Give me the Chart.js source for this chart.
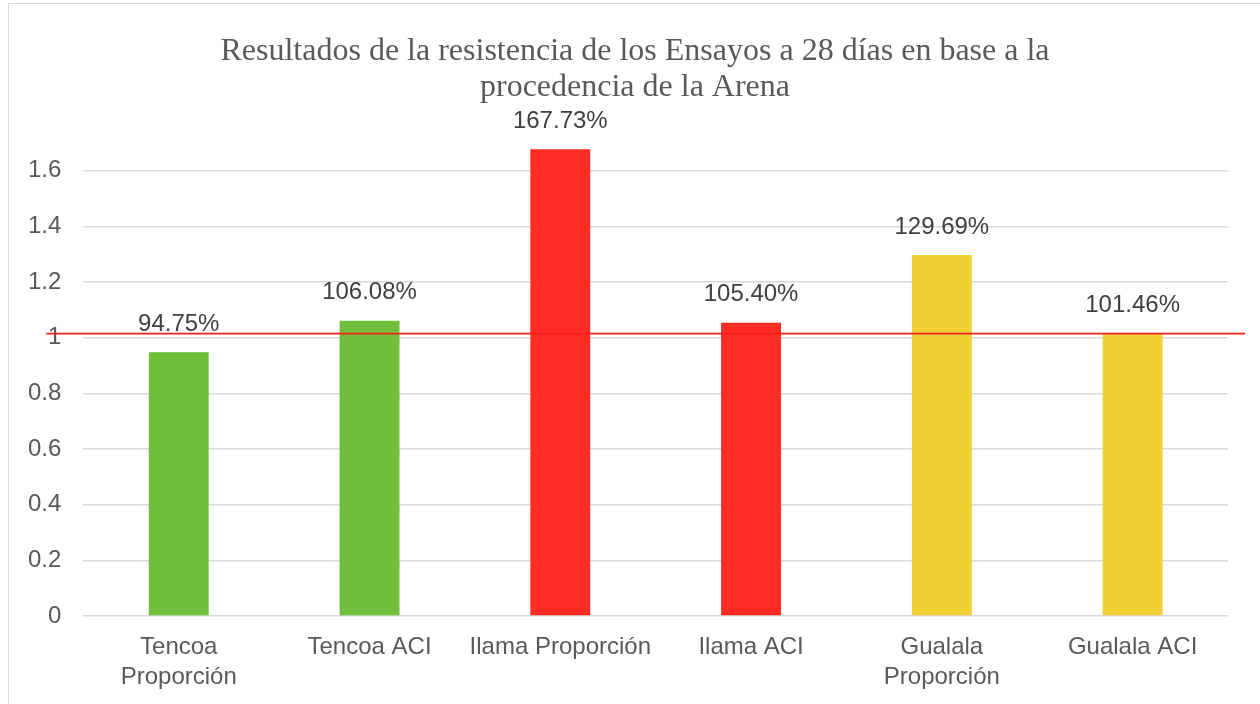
<!DOCTYPE html>
<html lang="es">
<head>
  <meta charset="UTF-8">
  <title>Resistencia a 28 días</title>
  <style>
    body {
      margin: 0;
      padding: 0;
      background-color: #fff;
      overflow: hidden;
    }

    .frame {
      position: absolute;
      left: 8px;
      top: 3px;
      width: 1300px;
      height: 760px;
      border: 1px solid #d9d9d9;
    }

    .wrap {
      position: absolute;
      left: 0;
      top: 0;
      width: 1260px;
      height: 704px;
    }
  </style>
</head>
<body>
  <div class="frame"></div>
  <div class="wrap">
    <canvas id="myChart" width="1260" height="704"></canvas>
  </div>
  <script src="https://cdn.jsdelivr.net/npm/chart.js"></script>
  <script>
    // Datos del ensayo
    var titulo = ['Resultados de la resistencia de los Ensayos a 28 días en base a la', 'procedencia de la Arena'];
    var categorias = [
      ['Tencoa', 'Proporción'],
      'Tencoa ACI',
      'Ilama Proporción',
      'Ilama ACI',
      ['Gualala', 'Proporción'],
      'Gualala ACI'
    ];
    var resistencia = [0.9475, 1.0608, 1.6773, 1.0540, 1.2969, 1.0146];
    var colores = ['#6fbf3b', '#6fbf3b', '#ff2d23', '#ff2d23', '#f0d032', '#f0d032'];
    var lineaReferencia = 1.0146;
    var ticksY = [0, 0.2, 0.4, 0.6, 0.8, 1, 1.2, 1.4, 1.6];

    var fuente = '"Liberation Sans", Arial, sans-serif';

    // Título en dos líneas, centrado sobre el gráfico
    var tituloPlugin = {
      id: 'tituloPlugin',
      afterDraw: function(chart) {
        var ctx = chart.ctx;
        ctx.save();
        ctx.font = '32px "Liberation Serif", "Times New Roman", serif';
        ctx.fillStyle = '#595959';
        ctx.textAlign = 'center';
        ctx.textBaseline = 'middle';
        var cx = chart.width / 2 + 5;
        titulo.forEach(function(linea, i) {
          ctx.fillText(linea, cx, 52 + i * 36);
        });
        ctx.restore();
      }
    };

    // Etiquetas de porcentaje sobre cada barra
    var etiquetas = {
      id: 'etiquetas',
      afterDatasetsDraw: function(chart) {
        var ctx = chart.ctx;
        var meta = chart.getDatasetMeta(0);
        ctx.save();
        ctx.font = '24px ' + fuente;
        ctx.fillStyle = '#404040';
        ctx.textAlign = 'center';
        ctx.textBaseline = 'middle';
        meta.data.forEach(function(bar, i) {
          var texto = (resistencia[i] * 100).toFixed(2) + '%';
          ctx.fillText(texto, bar.x, bar.y - 28);
        });
        ctx.restore();
      }
    };

    // Línea roja horizontal de referencia
    var referencia = {
      id: 'referencia',
      afterDraw: function(chart) {
        var ctx = chart.ctx;
        var area = chart.chartArea;
        var y = chart.scales.y.getPixelForValue(lineaReferencia);
        ctx.save();
        ctx.globalAlpha = 1;
        ctx.setLineDash([]);
        ctx.strokeStyle = 'rgb(255, 30, 30)';
        ctx.lineWidth = 1.6;
        ctx.beginPath();
        ctx.moveTo(area.left - 37, y);
        ctx.lineTo(area.right + 17, y);
        ctx.stroke();
        ctx.restore();
      }
    };

    var ctx = document.getElementById('myChart').getContext('2d');
    var myChart = new Chart(ctx, {
      type: 'bar',
      data: {
        labels: categorias,
        datasets: [{
          data: resistencia,
          backgroundColor: colores,
          borderWidth: 0,
          categoryPercentage: 1,
          barPercentage: 0.314
        }]
      },
      plugins: [tituloPlugin, etiquetas, referencia],
      options: {
        responsive: false,
        animation: false,
        layout: {
          padding: { left: 6, right: 32, top: 115, bottom: -4 }
        },
        plugins: {
          legend: { display: false },
          tooltip: { enabled: false },
          title: { display: false }
        },
        scales: {
          x: {
            grid: { display: false, drawTicks: false },
            border: { display: false },
            ticks: {
              color: '#595959',
              font: { family: fuente, size: 24, lineHeight: 1.25 },
              padding: 16,
              maxRotation: 0,
              autoSkip: false
            }
          },
          y: {
            min: 0,
            max: 1.8,
            afterBuildTicks: function(scale) {
              scale.ticks = ticksY.map(function(v) { return { value: v }; });
            },
            border: { display: false },
            grid: {
              color: '#d9d9d9',
              lineWidth: 1.5,
              drawTicks: false
            },
            ticks: {
              color: '#595959',
              font: { family: fuente, size: 24 },
              padding: 22,
              callback: function(value) { return value; }
            }
          }
        }
      }
    });
  </script>
</body>
</html>
